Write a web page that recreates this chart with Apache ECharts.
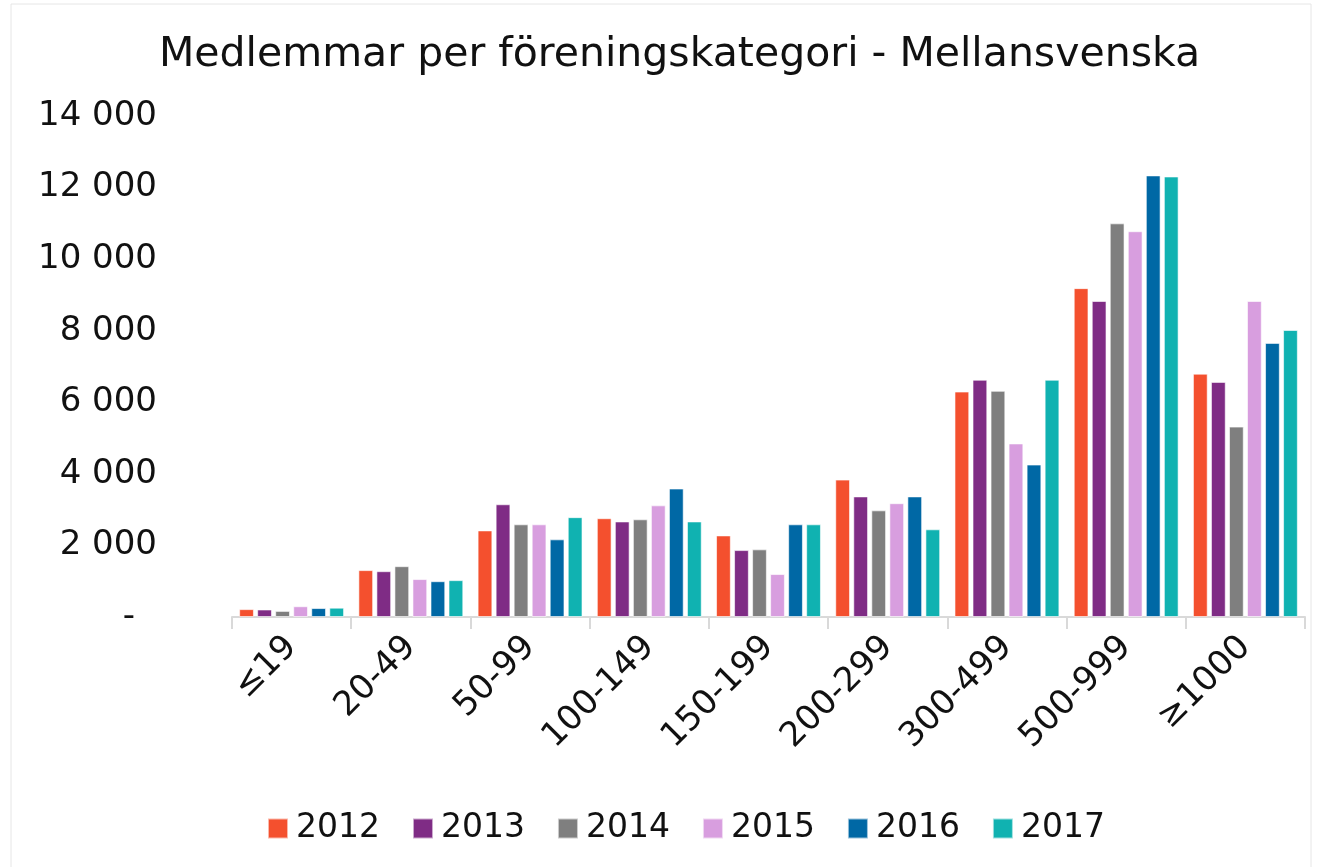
<!DOCTYPE html>
<html>
<head>
<meta charset="utf-8">
<script src="https://cdn.jsdelivr.net/npm/echarts@6/dist/echarts.min.js"></script>
<style>
  html, body { margin: 0; padding: 0; background: #fff; }
  #chart { width: 1317px; height: 867px; }
</style>
</head>
<body>
<div id="chart"></div>
<script>
const categories = ['≤19', '20-49', '50-99', '100-149', '150-199', '200-299', '300-499', '500-999', '≥1000']
const years = ['2012', '2013', '2014', '2015', '2016', '2017']
const colors = ['#F4502E', '#7F2C85', '#7F7F7F', '#D89EDF', '#0068A5', '#10B2B1']

// värden per år, en per kategori
const v2012 = [220, 1310, 2420, 2760, 2280, 3840, 6300, 9190, 6800]
const v2013 = [210, 1280, 3150, 2670, 1870, 3370, 6630, 8830, 6570]
const v2014 = [170, 1420, 2590, 2730, 1890, 2980, 6320, 11000, 5320]
const v2015 = [300, 1060, 2590, 3120, 1200, 3180, 4850, 10780, 8830]
const v2016 = [250, 1000, 2170, 3590, 2590, 3370, 4260, 12340, 7660]
const v2017 = [260, 1030, 2790, 2670, 2590, 2450, 6630, 12310, 8020]
const values = [v2012, v2013, v2014, v2015, v2016, v2017]

const font = '"DejaVu Sans", sans-serif'

const chart = echarts.init(document.getElementById('chart'))

chart.setOption({
  animation: false,
  textStyle: { fontFamily: font },
  title: {
    text: 'Medlemmar per föreningskategori - Mellansvenska',
    left: 154,
    top: 30,
    textStyle: { fontSize: 41, fontWeight: 'normal', color: '#111', fontFamily: font }
  },
  legend: {
    bottom: 17,
    left: 262,
    itemWidth: 20,
    itemHeight: 20,
    itemGap: 32,
    icon: 'rect',
    textStyle: { fontSize: 33, color: '#111', fontFamily: font, padding: [0, 0, 0, 3] },
    data: years
  },
  graphic: [{
    type: 'rect',
    shape: { x: 11, y: 4, width: 1300, height: 880 },
    style: { fill: 'none', stroke: '#e6e6e6', lineWidth: 1 },
    silent: true
  }],
  grid: { left: 232, right: 12, top: 116, bottom: 250 },
  xAxis: {
    type: 'category',
    data: categories,
    axisLine: { lineStyle: { color: '#d9d9d9', width: 2 } },
    axisTick: { show: true, length: 12, lineStyle: { color: '#d9d9d9', width: 2 } },
    axisLabel: { rotate: 45, fontSize: 34, color: '#111', margin: 25, fontFamily: font }
  },
  yAxis: {
    type: 'value',
    min: 0,
    max: 14000,
    interval: 2000,
    splitLine: { show: false },
    axisLine: { show: false },
    axisTick: { show: false },
    axisLabel: {
      fontSize: 34,
      color: '#111',
      margin: 75,
      fontFamily: font,
      formatter: v => v === 0 ? '{z|-}' : String(v).replace(/\B(?=(\d{3})+(?!\d))/g, ' '),
      rich: { z: { fontSize: 34, color: '#111', padding: [0, 22, 0, 0], fontFamily: font } }
    }
  },
  series: years.map((y, i) => ({
    name: y,
    type: 'bar',
    data: values[i],
    barGap: '22%',
    barCategoryGap: '12%',
    itemStyle: { color: colors[i], borderColor: 'rgba(255,255,255,0.6)', borderWidth: 1 }
  }))
})
</script>
</body>
</html>
